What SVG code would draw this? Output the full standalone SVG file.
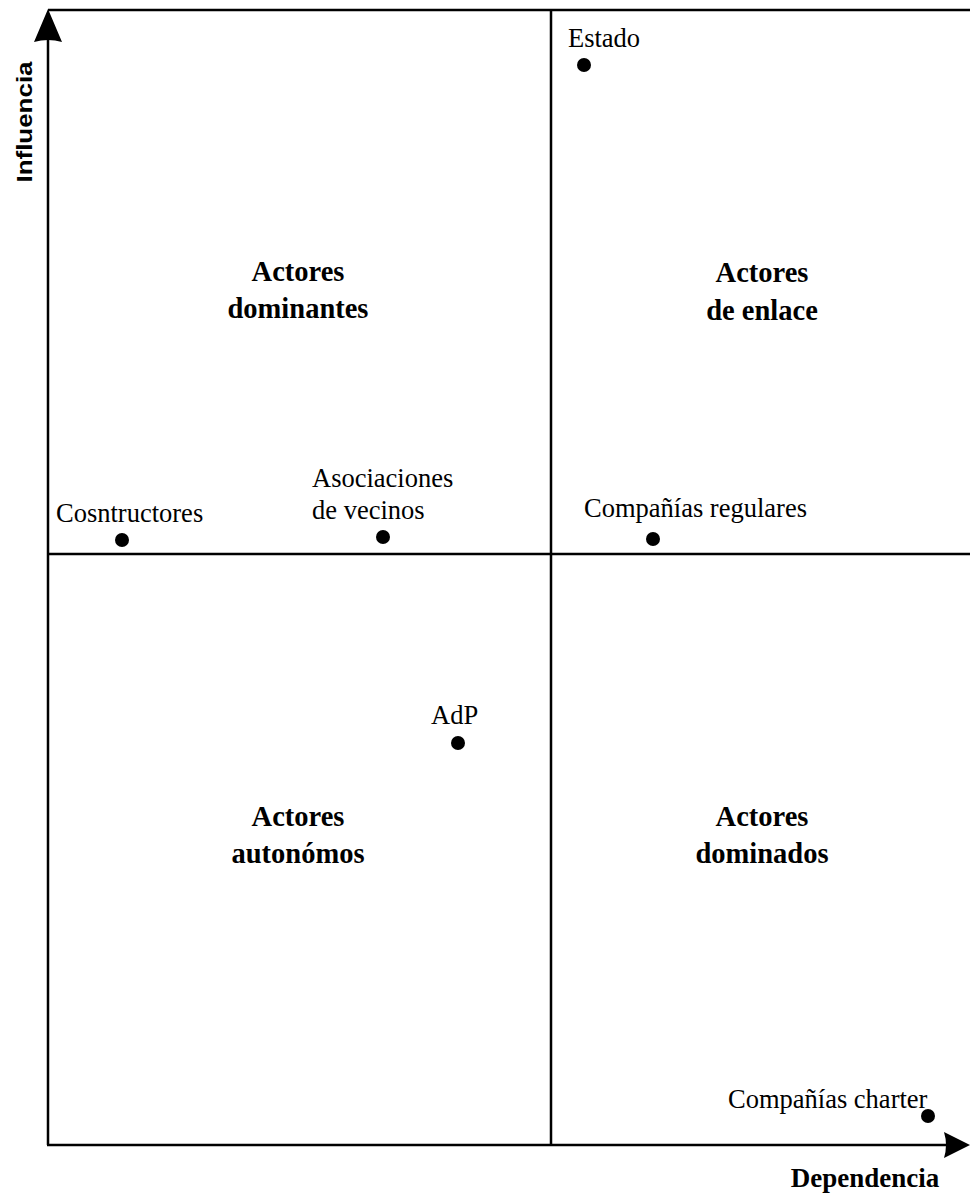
<svg xmlns="http://www.w3.org/2000/svg" width="970" height="1193" viewBox="0 0 970 1193">
<style>
.ln{stroke:#000;stroke-width:2.5;fill:none}
.lbl{font-family:"Liberation Serif",serif;font-size:26.5px;fill:#000}
.q{font-family:"Liberation Serif",serif;font-size:28.5px;font-weight:bold;fill:#000;text-anchor:middle}
.dot{fill:#000}
</style>
<rect width="970" height="1193" fill="#fff"/>
<g id="axes">
<line class="ln" x1="48" y1="30" x2="48" y2="1145"/>
<line class="ln" x1="47" y1="1145" x2="950" y2="1145"/>
<line class="ln" x1="48" y1="10" x2="970" y2="10"/>
<line class="ln" x1="551" y1="10" x2="551" y2="1145"/>
<line class="ln" x1="48" y1="554" x2="970" y2="554"/>
<path d="M48 9 L62 42 Q48 38 34 42 Z" fill="#000"/>
<path d="M970 1145 L944 1158 Q948 1145 944 1132 Z" fill="#000"/>
<text transform="translate(32 122) rotate(-90)" text-anchor="middle" font-family="Liberation Sans, sans-serif" font-weight="bold" font-size="22" textLength="121" lengthAdjust="spacingAndGlyphs">Influencia</text>
<text x="865" y="1187" text-anchor="middle" font-family="Liberation Serif, serif" font-weight="bold" font-size="27">Dependencia</text>
</g>
<g id="quadrants">
<text class="q" x="298" y="281">Actores</text>
<text class="q" x="298" y="318">dominantes</text>
<text class="q" x="762" y="282">Actores</text>
<text class="q" x="762" y="320">de enlace</text>
<text class="q" x="298" y="826">Actores</text>
<text class="q" x="298" y="863">autonómos</text>
<text class="q" x="762" y="826">Actores</text>
<text class="q" x="762" y="863">dominados</text>
</g>
<g id="estado"><circle class="dot" cx="584" cy="65" r="7"/><text class="lbl" x="568" y="47">Estado</text></g>
<g id="constructores"><circle class="dot" cx="122" cy="540" r="7"/><text class="lbl" x="56" y="522">Cosntructores</text></g>
<g id="asociaciones"><circle class="dot" cx="383" cy="537" r="7"/><text class="lbl" x="312" y="487">Asociaciones</text><text class="lbl" x="312" y="519">de vecinos</text></g>
<g id="regulares"><circle class="dot" cx="653" cy="539" r="7"/><text class="lbl" x="584" y="517">Compañías regulares</text></g>
<g id="adp"><circle class="dot" cx="458" cy="743" r="7"/><text class="lbl" x="431" y="724">AdP</text></g>
<g id="charter"><circle class="dot" cx="928" cy="1116" r="7"/><text class="lbl" x="728" y="1108">Compañías charter</text></g>
</svg>
